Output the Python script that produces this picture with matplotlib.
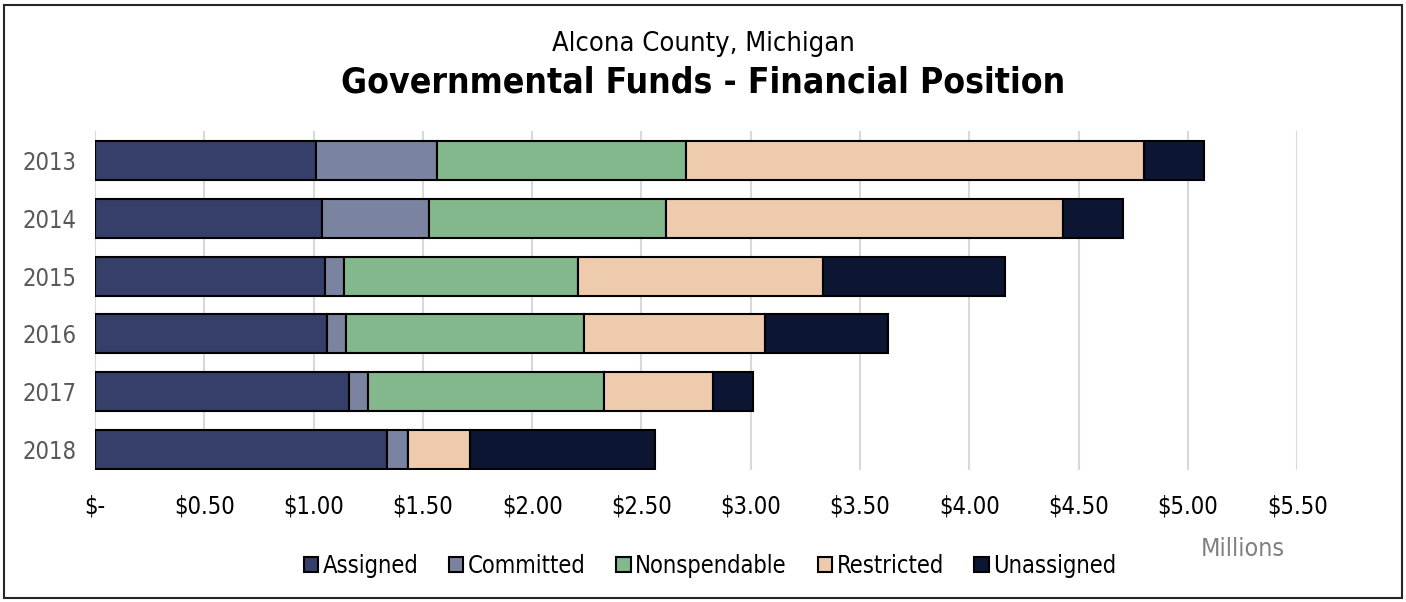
import numpy as np
import matplotlib
matplotlib.use("Agg")
import matplotlib.pyplot as plt
from matplotlib.patches import Rectangle

plt.rcParams['font.family'] = ['DejaVu Sans']
plt.rcParams['font.stretch'] = 'condensed'

years = ['2013', '2014', '2015', '2016', '2017', '2018']
categories = ['Assigned', 'Committed', 'Nonspendable', 'Restricted', 'Unassigned']
# values in millions of dollars
assigned = [1.01, 1.04, 1.05, 1.06, 1.16, 1.335]
committed = [0.555, 0.49, 0.09, 0.09, 0.09, 0.095]
nonspendable = [1.14, 1.08, 1.07, 1.085, 1.08, 0.0]
restricted = [2.095, 1.82, 1.12, 0.83, 0.495, 0.285]
unassigned = [0.275, 0.275, 0.835, 0.563, 0.183, 0.845]
series = [assigned, committed, nonspendable, restricted, unassigned]
colors = ['#353F69', '#7A84A0', '#83B78C', '#EFCBAE', '#0C1633']
x_ticks = np.arange(0, 5.51, 0.5)

fig = plt.figure(figsize=(14.06, 6.02), dpi=100)
ax = fig.add_axes([0.0676, 0.2193, 0.855, 0.5631])

y = np.arange(len(years))
left = np.zeros(len(years))
for vals, col, name in zip(series, colors, categories):
    vals = np.array(vals)
    ax.barh(y, vals, left=left, height=0.675, color=col, edgecolor='black',
            linewidth=1.5, label=name, zorder=3)
    left += vals

ax.set_ylim(5.355, -0.51)
ax.set_xlim(0, 5.5)
ax.set_yticks(y)
ax.set_yticklabels(years, fontsize=17, color='#595959')
ax.set_xticks(x_ticks)
ax.set_xticklabels(['$-'] + ['${:.2f}'.format(v) for v in x_ticks[1:]],
                   fontsize=17, color='#000000')
ax.tick_params(axis='y', length=0, pad=13)
ax.tick_params(axis='x', length=0, pad=18)
ax.grid(axis='x', color='#D9D9D9', linewidth=1.5, zorder=0)
for s in ax.spines.values():
    s.set_visible(False)

fig.text(0.884, 0.076, 'Millions', fontsize=18, color='#808080', ha='center')
fig.text(0.5, 0.927, 'Alcona County, Michigan', fontsize=19.5, ha='center', va='center')
fig.text(0.5, 0.863, 'Governmental Funds - Financial Position', fontsize=25.5,
         fontweight='bold', ha='center', va='center')

leg = fig.legend(loc='center', bbox_to_anchor=(0.505, 0.06), ncol=5, frameon=False,
                 fontsize=17, handlelength=0.6, handleheight=0.6, handletextpad=0.2,
                 columnspacing=1.3)

fig.patches.append(Rectangle((0.003, 0.006), 0.994, 0.986, transform=fig.transFigure,
                             fill=False, edgecolor='#262626', linewidth=1.5))

fig.savefig('out.png', dpi=100)
